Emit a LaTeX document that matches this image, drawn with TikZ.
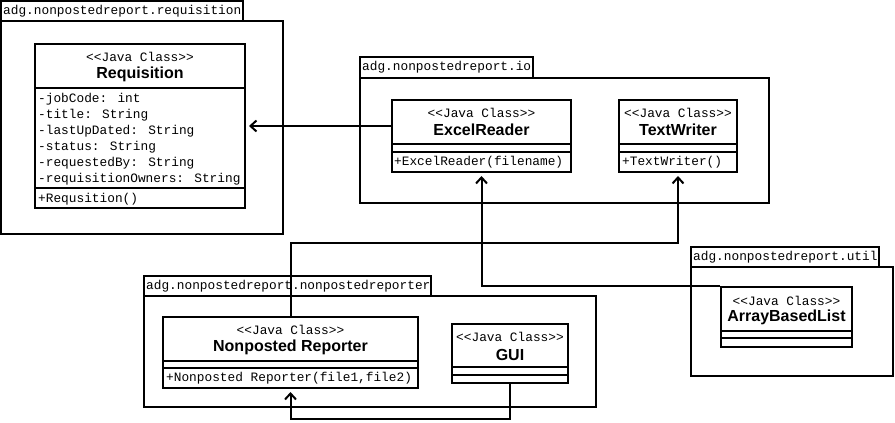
\documentclass[tikz,border=0pt]{standalone}
\usepackage{fontspec}
\setmainfont{Liberation Sans}
\newfontfamily\umlmono[Ligatures=NoCommon]{Liberation Mono}
\usetikzlibrary{arrows.meta,positioning}

\tikzset{
  pkgline/.style={draw,line width=2pt},
  classbox/.style={draw,line width=2pt,inner sep=0pt},
  sepline/.style={line width=2pt},
  stereo/.style={inner sep=0pt,font=\umlmono\fontsize{12.8}{14}\selectfont},
  member/.style={stereo,anchor=west},
  cname/.style={inner sep=0pt,font=\bfseries\fontsize{16}{18}\selectfont},
  dep/.style={line width=2pt,-{Straight Barb[length=6pt,width=11pt]},shorten >=3pt}
}

\begin{document}
\begin{tikzpicture}[x=1pt,y=-1pt]
\useasboundingbox (0,0) rectangle (895,423);

% package requisition
\draw[pkgline] (1,1) rectangle (243,21);
\draw[pkgline] (1,21) rectangle (283,234);
\node[member] (reqpkg) at (3,11) {adg.nonpostedreport.requisition};

\node[classbox,minimum width=210pt,minimum height=164pt] (req) at (140,126) {};
\draw[sepline] (req.west |- 0,88) -- (req.east |- 0,88);
\draw[sepline] (req.west |- 0,188) -- (req.east |- 0,188);
\node[stereo] (reqst) at (140,57) {<{}<Java Class>{}>};
\node[cname] (reqname) at (140,74) {Requisition};
\node[member] (reqa1) at (38,99) {-jobCode: int};
\node[member] (reqa2) at (38,115) {-title: String};
\node[member] (reqa3) at (38,131) {-lastUpDated: String};
\node[member] (reqa4) at (38,147) {-status: String};
\node[member] (reqa5) at (38,163) {-requestedBy: String};
\node[member] (reqa6) at (38,179) {-requisitionOwners: String};
\node[member] (reqm1) at (38,199) {+Requsition()};

% package io
\draw[pkgline] (360,57) rectangle (533,78);
\draw[pkgline] (360,78) rectangle (769,203);
\node[member] (iopkg) at (362,67) {adg.nonpostedreport.io};

\node[classbox,minimum width=179pt,minimum height=72pt] (excel) at (481.5,136) {};
\draw[sepline] (excel.west |- 0,144) -- (excel.east |- 0,144);
\draw[sepline] (excel.west |- 0,152) -- (excel.east |- 0,152);
\node[stereo] (excelst) at (481.5,113) {<{}<Java Class>{}>};
\node[cname] (excelname) at (481.5,130) {ExcelReader};
\node[member] (excelm1) at (394,162) {+ExcelReader(filename)};

\node[classbox,minimum width=118pt,minimum height=72pt] (tw) at (678,136) {};
\draw[sepline] (tw.west |- 0,144) -- (tw.east |- 0,144);
\draw[sepline] (tw.west |- 0,152) -- (tw.east |- 0,152);
\node[stereo] (twst) at (678,113) {<{}<Java Class>{}>};
\node[cname] (twname) at (678,130) {TextWriter};
\node[member] (twm1) at (622,162) {+TextWriter()};

% package nonpostedreporter
\draw[pkgline] (144,276) rectangle (431,296);
\draw[pkgline] (144,296) rectangle (596,407);
\node[member] (nppkg) at (146,286) {adg.nonpostedreport.nonpostedreporter};

\node[classbox,minimum width=255pt,minimum height=71pt] (np) at (290.5,352.5) {};
\draw[sepline] (np.west |- 0,361) -- (np.east |- 0,361);
\draw[sepline] (np.west |- 0,368) -- (np.east |- 0,368);
\node[stereo] (npst) at (290.5,330) {<{}<Java Class>{}>};
\node[cname] (npname) at (290.5,347) {Nonposted Reporter};
\node[member] (npm1) at (166,378) {+Nonposted Reporter(file1,file2)};

\node[classbox,minimum width=116pt,minimum height=59pt] (gui) at (510,353.5) {};
\draw[sepline] (gui.west |- 0,367) -- (gui.east |- 0,367);
\draw[sepline] (gui.west |- 0,375) -- (gui.east |- 0,375);
\node[stereo] (guist) at (510,337) {<{}<Java Class>{}>};
\node[cname] (guiname) at (510,355) {GUI};

% package util
\draw[pkgline] (691,247) rectangle (879,267);
\draw[pkgline] (691,267) rectangle (893,376);
\node[member] (utilpkg) at (693,257) {adg.nonpostedreport.util};

\node[classbox,minimum width=131pt,minimum height=60pt] (abl) at (786.5,317) {};
\draw[sepline] (abl.west |- 0,331) -- (abl.east |- 0,331);
\draw[sepline] (abl.west |- 0,338) -- (abl.east |- 0,338);
\node[stereo] (ablst) at (786.5,301) {<{}<Java Class>{}>};
\node[cname] (ablname) at (786.5,317) {ArrayBasedList};

% dependencies
\draw[dep] (excel.west |- req.east) -- (req.east);
\draw[dep] (abl.north west) -| (excel.south);
\draw[dep] (np.north) -- (np.north |- 0,243) -| (tw.south);
\draw[dep] (gui.south) -- (gui.south |- 0,419) -| (np.south);
\end{tikzpicture}
\end{document}
